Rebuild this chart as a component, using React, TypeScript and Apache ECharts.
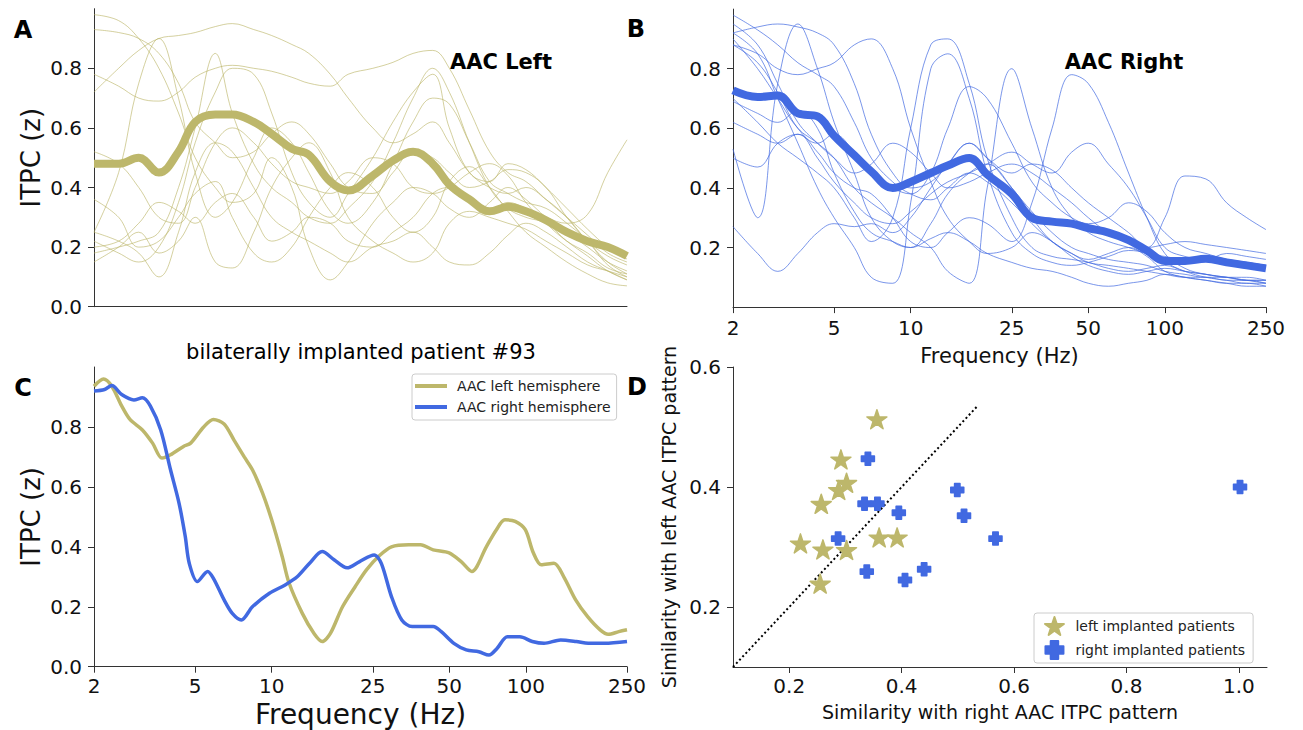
import React, { useEffect, useRef } from 'react';
import * as echarts from 'echarts';

// ---------- data ----------
const FREQ = [2, 2.5, 3, 3.6, 4.3, 5, 6, 7, 8.5, 10, 12, 14, 17, 20, 25, 30, 36, 43, 50, 60, 72, 85, 100, 120, 145, 175, 210, 250];
const TICK_HZ = [2, 5, 10, 25, 50, 100, 250];

const leftMean = [0.48, 0.48, 0.50, 0.45, 0.52, 0.62, 0.645, 0.645, 0.62, 0.58, 0.53, 0.51, 0.42, 0.39, 0.44, 0.49, 0.52, 0.48, 0.41, 0.36, 0.32, 0.335, 0.32, 0.29, 0.25, 0.22, 0.20, 0.17];
const rightMean = [0.727, 0.705, 0.71, 0.65, 0.64, 0.575, 0.51, 0.455, 0.40, 0.42, 0.45, 0.475, 0.50, 0.445, 0.38, 0.30, 0.287, 0.28, 0.265, 0.25, 0.225, 0.19, 0.155, 0.155, 0.162, 0.15, 0.14, 0.13];

const leftPatients = [
  [0.78, 0.74, 0.70, 0.69, 0.72, 0.77, 0.80, 0.81, 0.80, 0.79, 0.77, 0.75, 0.74, 0.78, 0.80, 0.82, 0.85, 0.86, 0.80, 0.66, 0.52, 0.45, 0.42, 0.36, 0.30, 0.24, 0.18, 0.15],
  [0.72, 0.80, 0.86, 0.90, 0.91, 0.92, 0.94, 0.95, 0.93, 0.91, 0.88, 0.85, 0.78, 0.70, 0.60, 0.55, 0.58, 0.62, 0.55, 0.45, 0.40, 0.38, 0.40, 0.36, 0.30, 0.22, 0.17, 0.14],
  [0.98, 0.96, 0.90, 0.80, 0.65, 0.50, 0.40, 0.35, 0.38, 0.50, 0.40, 0.20, 0.09, 0.15, 0.28, 0.35, 0.40, 0.38, 0.33, 0.30, 0.35, 0.40, 0.36, 0.30, 0.25, 0.20, 0.15, 0.12],
  [0.93, 0.92, 0.90, 0.85, 0.75, 0.62, 0.55, 0.50, 0.52, 0.58, 0.62, 0.58, 0.48, 0.40, 0.38, 0.45, 0.52, 0.50, 0.45, 0.40, 0.42, 0.46, 0.45, 0.40, 0.30, 0.22, 0.15, 0.11],
  [0.25, 0.45, 0.75, 0.90, 0.70, 0.45, 0.30, 0.35, 0.50, 0.60, 0.55, 0.45, 0.32, 0.28, 0.35, 0.48, 0.62, 0.70, 0.68, 0.55, 0.42, 0.38, 0.35, 0.33, 0.28, 0.22, 0.14, 0.10],
  [0.18, 0.20, 0.22, 0.25, 0.40, 0.60, 0.85, 0.65, 0.48, 0.40, 0.35, 0.30, 0.28, 0.33, 0.42, 0.55, 0.70, 0.80, 0.72, 0.55, 0.40, 0.33, 0.30, 0.28, 0.22, 0.17, 0.12, 0.09],
  [0.22, 0.18, 0.15, 0.20, 0.35, 0.55, 0.72, 0.80, 0.78, 0.65, 0.45, 0.35, 0.30, 0.38, 0.50, 0.62, 0.72, 0.78, 0.60, 0.45, 0.42, 0.48, 0.46, 0.40, 0.33, 0.26, 0.20, 0.16],
  [0.15, 0.20, 0.25, 0.18, 0.22, 0.30, 0.15, 0.13, 0.25, 0.40, 0.50, 0.55, 0.45, 0.30, 0.22, 0.18, 0.15, 0.18, 0.28, 0.32, 0.30, 0.28, 0.26, 0.22, 0.18, 0.14, 0.12, 0.10],
  [0.25, 0.22, 0.18, 0.10, 0.25, 0.45, 0.55, 0.52, 0.40, 0.30, 0.25, 0.22, 0.18, 0.15, 0.20, 0.22, 0.25, 0.20, 0.15, 0.14, 0.18, 0.24, 0.28, 0.25, 0.20, 0.15, 0.12, 0.09],
  [0.52, 0.48, 0.40, 0.30, 0.28, 0.40, 0.55, 0.60, 0.55, 0.48, 0.42, 0.40, 0.38, 0.42, 0.50, 0.48, 0.40, 0.38, 0.40, 0.45, 0.48, 0.44, 0.35, 0.28, 0.22, 0.18, 0.13, 0.11],
  [0.20, 0.22, 0.28, 0.35, 0.32, 0.28, 0.35, 0.38, 0.30, 0.22, 0.25, 0.30, 0.28, 0.22, 0.20, 0.25, 0.30, 0.38, 0.40, 0.36, 0.32, 0.35, 0.33, 0.30, 0.28, 0.31, 0.45, 0.56],
  [0.36, 0.30, 0.20, 0.22, 0.30, 0.38, 0.42, 0.30, 0.18, 0.15, 0.20, 0.30, 0.40, 0.45, 0.40, 0.30, 0.25, 0.30, 0.42, 0.47, 0.40, 0.32, 0.25, 0.20, 0.15, 0.11, 0.08, 0.07],
];

const rightPatients = [
  [0.98, 0.93, 0.88, 0.82, 0.78, 0.74, 0.62, 0.50, 0.42, 0.38, 0.36, 0.40, 0.45, 0.42, 0.35, 0.28, 0.22, 0.18, 0.15, 0.14, 0.13, 0.12, 0.11, 0.10, 0.10, 0.09, 0.09, 0.08],
  [0.92, 0.94, 0.95, 0.94, 0.92, 0.88, 0.75, 0.58, 0.45, 0.40, 0.42, 0.48, 0.55, 0.50, 0.40, 0.32, 0.25, 0.20, 0.18, 0.16, 0.15, 0.14, 0.12, 0.11, 0.10, 0.10, 0.09, 0.09],
  [0.53, 0.30, 0.75, 0.95, 0.80, 0.62, 0.45, 0.30, 0.22, 0.20, 0.28, 0.38, 0.45, 0.48, 0.40, 0.30, 0.22, 0.18, 0.16, 0.18, 0.20, 0.17, 0.12, 0.10, 0.09, 0.08, 0.08, 0.07],
  [0.88, 0.85, 0.80, 0.78, 0.80, 0.82, 0.88, 0.90, 0.80, 0.60, 0.42, 0.30, 0.22, 0.18, 0.20, 0.25, 0.22, 0.17, 0.14, 0.12, 0.11, 0.12, 0.13, 0.12, 0.11, 0.10, 0.10, 0.09],
  [0.70, 0.62, 0.55, 0.50, 0.45, 0.40, 0.30, 0.22, 0.30, 0.60, 0.88, 0.90, 0.75, 0.50, 0.30, 0.20, 0.17, 0.16, 0.15, 0.13, 0.12, 0.13, 0.14, 0.12, 0.11, 0.10, 0.09, 0.09],
  [0.92, 0.85, 0.70, 0.55, 0.40, 0.30, 0.20, 0.10, 0.08, 0.35, 0.80, 0.85, 0.70, 0.45, 0.25, 0.18, 0.15, 0.14, 0.15, 0.17, 0.19, 0.18, 0.15, 0.12, 0.10, 0.09, 0.08, 0.08],
  [0.90, 0.80, 0.70, 0.60, 0.55, 0.50, 0.40, 0.35, 0.30, 0.25, 0.20, 0.12, 0.08, 0.40, 0.80, 0.60, 0.40, 0.30, 0.25, 0.22, 0.20, 0.18, 0.17, 0.16, 0.17, 0.16, 0.15, 0.14],
  [0.62, 0.58, 0.55, 0.58, 0.52, 0.45, 0.40, 0.38, 0.30, 0.22, 0.20, 0.25, 0.30, 0.28, 0.22, 0.35, 0.60, 0.78, 0.75, 0.62, 0.45, 0.30, 0.18, 0.13, 0.11, 0.10, 0.09, 0.08],
  [0.27, 0.18, 0.12, 0.18, 0.25, 0.28, 0.27, 0.28, 0.25, 0.30, 0.40, 0.48, 0.55, 0.50, 0.45, 0.48, 0.46, 0.40, 0.35, 0.30, 0.25, 0.20, 0.30, 0.44, 0.43, 0.35, 0.30, 0.26],
  [0.50, 0.47, 0.55, 0.58, 0.50, 0.42, 0.35, 0.30, 0.28, 0.32, 0.38, 0.42, 0.45, 0.48, 0.52, 0.48, 0.45, 0.52, 0.55, 0.48, 0.40, 0.30, 0.20, 0.17, 0.16, 0.18, 0.17, 0.16],
  [0.88, 0.82, 0.72, 0.60, 0.55, 0.58, 0.52, 0.45, 0.40, 0.38, 0.45, 0.60, 0.74, 0.70, 0.55, 0.42, 0.35, 0.30, 0.28, 0.30, 0.35, 0.32, 0.25, 0.20, 0.18, 0.16, 0.15, 0.14],
  [0.95, 0.88, 0.75, 0.62, 0.55, 0.50, 0.45, 0.48, 0.55, 0.52, 0.45, 0.40, 0.42, 0.45, 0.48, 0.45, 0.40, 0.35, 0.30, 0.25, 0.22, 0.20, 0.21, 0.22, 0.21, 0.20, 0.19, 0.18],
  [0.69, 0.65, 0.62, 0.66, 0.60, 0.45, 0.32, 0.25, 0.22, 0.20, 0.23, 0.25, 0.22, 0.18, 0.15, 0.13, 0.12, 0.10, 0.08, 0.07, 0.08, 0.09, 0.11, 0.10, 0.09, 0.08, 0.07, 0.07],
];

const patient93LeftFreq = [2, 2.18, 2.35, 2.57, 2.77, 3.1, 3.4, 3.7, 4.0, 4.5, 4.8, 5.4, 5.9, 6.5, 7.1, 7.8, 8.4, 9.2, 10, 11, 11.7, 13.2, 14.7, 15.8, 17, 19, 21.3, 23.6, 26.5, 29.6, 34.6, 38.5, 43.2, 49.9, 55.8, 61.3, 69.9, 76.6, 82.7, 90.8, 99.5, 107, 115, 129, 141, 157, 175, 196, 211, 232, 250];
const patient93Left = [0.936, 0.96, 0.936, 0.87, 0.825, 0.79, 0.746, 0.696, 0.707, 0.735, 0.746, 0.80, 0.825, 0.81, 0.757, 0.70, 0.657, 0.58, 0.49, 0.368, 0.28, 0.178, 0.11, 0.084, 0.11, 0.20, 0.267, 0.323, 0.37, 0.40, 0.407, 0.407, 0.39, 0.38, 0.35, 0.318, 0.40, 0.457, 0.49, 0.485, 0.457, 0.38, 0.34, 0.345, 0.30, 0.223, 0.167, 0.123, 0.108, 0.117, 0.123];
const patient93RightFreq = [2, 2.2, 2.35, 2.57, 2.87, 3.1, 3.33, 3.66, 4.0, 4.32, 4.57, 4.74, 5.1, 5.6, 5.9, 6.5, 7.0, 7.6, 8.4, 9.8, 11.3, 12.6, 14.1, 15.8, 17.6, 19.8, 22.1, 25.3, 27, 29.6, 32.5, 35.7, 43.2, 46.5, 52.1, 58.3, 65.3, 71.6, 77, 84.6, 94.7, 106, 118, 137, 158, 176, 204, 250];
const patient93Right = [0.92, 0.925, 0.938, 0.908, 0.89, 0.897, 0.87, 0.79, 0.657, 0.546, 0.435, 0.345, 0.284, 0.318, 0.295, 0.223, 0.178, 0.156, 0.20, 0.245, 0.273, 0.30, 0.345, 0.384, 0.357, 0.33, 0.35, 0.373, 0.345, 0.234, 0.156, 0.134, 0.134, 0.117, 0.078, 0.056, 0.05, 0.039, 0.061, 0.10, 0.10, 0.084, 0.078, 0.089, 0.084, 0.078, 0.078, 0.084];

// similarity: [with right AAC, with left AAC]
const leftImplanted = [[0.356, 0.513], [0.292, 0.446], [0.302, 0.407], [0.288, 0.395], [0.257, 0.372], [0.220, 0.306], [0.260, 0.296], [0.302, 0.295], [0.360, 0.316], [0.392, 0.316], [0.255, 0.239]];
const rightImplanted = [[0.340, 0.447], [0.499, 0.395], [1.002, 0.400], [0.334, 0.372], [0.357, 0.372], [0.395, 0.357], [0.511, 0.352], [0.287, 0.314], [0.567, 0.314], [0.338, 0.259], [0.406, 0.245], [0.440, 0.263]];
const identityLine = [[0.1, 0.1], [0.535, 0.535]];

// ---------- styling ----------
const FONT = '"DejaVu Sans", "Noto Sans", sans-serif';
const KHAKI = '#BDB76B';
const ROYAL = '#4169E1';
const AXIS = '#333333';
const STAR = 'path://M0,-1L0.2245,-0.309L0.951,-0.309L0.3633,0.118L0.588,0.809L0,0.382L-0.588,0.809L-0.3633,0.118L-0.951,-0.309L-0.2245,-0.309Z';
const PLUS = 'path://M-1.25,-3H1.25V-1.25H3V1.25H1.25V3H-1.25V1.25H-3V-1.25H-1.25Z';

const lg = (f: number) => Math.log10(f);
const pairs = (fs: number[], vs: number[]) => vs.map((v, i) => [lg(fs[i]), v]);

function freqAxis(gridIndex: number, showLabels: boolean, name?: string, nameSize?: number, nameGap?: number) {
  return {
    gridIndex,
    type: 'value',
    min: lg(2),
    max: lg(250),
    axisLine: { show: true, lineStyle: { color: AXIS, width: 1 } },
    axisTick: { show: showLabels, length: 6, lineStyle: { color: AXIS }, customValues: TICK_HZ.map(lg) },
    axisLabel: {
      show: showLabels, fontSize: 20, color: '#111', fontFamily: FONT, margin: 9,
      customValues: TICK_HZ.map(lg),
      formatter: (v: number) => String(Math.round(Math.pow(10, v))),
    },
    splitLine: { show: false },
    name: name || '',
    nameLocation: 'middle',
    nameGap: nameGap || 30,
    nameTextStyle: { fontSize: nameSize || 20, color: '#111', fontFamily: FONT },
  };
}

function valAxis(gridIndex: number, min: number, max: number, ticks: number[], name?: string, nameSize?: number, nameGap?: number) {
  return {
    gridIndex,
    type: 'value',
    min,
    max,
    axisLine: { show: true, lineStyle: { color: AXIS, width: 1 } },
    axisTick: { show: true, length: 6, lineStyle: { color: AXIS }, customValues: ticks },
    axisLabel: {
      fontSize: 20, color: '#111', fontFamily: FONT, margin: 12,
      customValues: ticks,
      formatter: (v: number) => v.toFixed(1),
    },
    splitLine: { show: false },
    name: name || '',
    nameLocation: 'middle',
    nameRotate: 90,
    nameGap: nameGap || 50,
    nameTextStyle: { fontSize: nameSize || 26, color: '#111', fontFamily: FONT },
  };
}

function label(text: string, x: number, y: number, size: number, bold: boolean) {
  return {
    type: 'text',
    x,
    y,
    style: {
      text,
      fontSize: size,
      fontWeight: bold ? 'bold' : 'normal',
      fontFamily: FONT,
      fill: '#000',
      align: 'center',
      verticalAlign: 'middle',
      textAlign: 'center',
      textVerticalAlign: 'middle',
    },
  };
}

export default function App() {
  const ref = useRef<HTMLDivElement>(null);

  useEffect(() => {
    if (!ref.current) return;
    const chart = echarts.init(ref.current, undefined, { renderer: 'svg' });

    const series: any[] = [];
    leftPatients.forEach((vals, i) => {
      series.push({
        name: 'left patient ' + (i + 1), type: 'line', xAxisIndex: 0, yAxisIndex: 0,
        data: pairs(FREQ, vals), showSymbol: false, smooth: 0.4,
        lineStyle: { color: KHAKI, width: 1, opacity: 0.65 }, itemStyle: { color: KHAKI }, z: 2,
      });
    });
    series.push({
      name: 'AAC Left mean', type: 'line', xAxisIndex: 0, yAxisIndex: 0,
      data: pairs(FREQ, leftMean), showSymbol: false, smooth: 0.4,
      lineStyle: { color: KHAKI, width: 8 }, itemStyle: { color: KHAKI }, z: 3,
    });
    rightPatients.forEach((vals, i) => {
      series.push({
        name: 'right patient ' + (i + 1), type: 'line', xAxisIndex: 1, yAxisIndex: 1,
        data: pairs(FREQ, vals), showSymbol: false, smooth: 0.4,
        lineStyle: { color: ROYAL, width: 1, opacity: 0.7 }, itemStyle: { color: ROYAL }, z: 2,
      });
    });
    series.push({
      name: 'AAC Right mean', type: 'line', xAxisIndex: 1, yAxisIndex: 1,
      data: pairs(FREQ, rightMean), showSymbol: false, smooth: 0.4,
      lineStyle: { color: ROYAL, width: 8 }, itemStyle: { color: ROYAL }, z: 3,
    });
    series.push({
      name: 'AAC left hemisphere', type: 'line', xAxisIndex: 2, yAxisIndex: 2,
      data: pairs(patient93LeftFreq, patient93Left), showSymbol: false, smooth: 0.3,
      lineStyle: { color: KHAKI, width: 3.5 }, itemStyle: { color: KHAKI },
    });
    series.push({
      name: 'AAC right hemisphere', type: 'line', xAxisIndex: 2, yAxisIndex: 2,
      data: pairs(patient93RightFreq, patient93Right), showSymbol: false, smooth: 0.3,
      lineStyle: { color: ROYAL, width: 3.5 }, itemStyle: { color: ROYAL },
    });
    series.push({
      name: 'identity', type: 'line', xAxisIndex: 3, yAxisIndex: 3,
      data: identityLine, showSymbol: false,
      lineStyle: { color: '#000', width: 2, type: [2, 2.6] }, z: 1,
    });
    series.push({
      name: 'left implanted patients', type: 'scatter', xAxisIndex: 3, yAxisIndex: 3,
      data: leftImplanted, symbol: STAR, symbolSize: 20, symbolKeepAspect: true,
      itemStyle: { color: KHAKI, opacity: 1, borderColor: KHAKI, borderWidth: 1.5, borderJoin: 'round' }, z: 3,
    });
    series.push({
      name: 'right implanted patients', type: 'scatter', xAxisIndex: 3, yAxisIndex: 3,
      data: rightImplanted, symbol: PLUS, symbolSize: 13, symbolKeepAspect: true,
      itemStyle: { color: ROYAL, opacity: 1, borderColor: ROYAL, borderWidth: 1.5, borderJoin: 'round' }, z: 3,
    });

    const option: any = {
      animation: false,
      backgroundColor: '#ffffff',
      textStyle: { fontFamily: FONT },
      grid: [
        { left: 94, top: 8.7, width: 533, height: 298, containLabel: false, outerBoundsMode: 'none' },
        { left: 733, top: 9.1, width: 533, height: 299.5, containLabel: false, outerBoundsMode: 'none' },
        { left: 94, top: 367, width: 533, height: 299.7, containLabel: false, outerBoundsMode: 'none' },
        { left: 733, top: 367, width: 534, height: 300, containLabel: false, outerBoundsMode: 'none' },
      ],
      xAxis: [
        freqAxis(0, false),
        freqAxis(1, true, 'Frequency (Hz)', 21, 37),
        freqAxis(2, true, 'Frequency (Hz)', 28, 34),
        {
          gridIndex: 3, type: 'value', min: 0.1, max: 1.05,
          axisLine: { show: true, lineStyle: { color: AXIS, width: 1 } },
          axisTick: { show: true, length: 6, lineStyle: { color: AXIS }, customValues: [0.2, 0.4, 0.6, 0.8, 1.0] },
          axisLabel: {
            fontSize: 20, color: '#111', fontFamily: FONT, margin: 9,
            customValues: [0.2, 0.4, 0.6, 0.8, 1.0], formatter: (v: number) => v.toFixed(1),
          },
          splitLine: { show: false },
          name: 'Similarity with right AAC ITPC pattern', nameLocation: 'middle', nameGap: 35,
          nameTextStyle: { fontSize: 19, color: '#111', fontFamily: FONT },
        },
      ],
      yAxis: [
        valAxis(0, 0, 1.0, [0, 0.2, 0.4, 0.6, 0.8], 'ITPC (z)', 26, 50),
        valAxis(1, -0.005, 1.0, [0.2, 0.4, 0.6, 0.8]),
        valAxis(2, 0, 1.0, [0, 0.2, 0.4, 0.6, 0.8], 'ITPC (z)', 26, 50),
        valAxis(3, 0.1, 0.6, [0.2, 0.4, 0.6], 'Similarity with left AAC ITPC pattern', 19, 55),
      ],
      legend: [
        {
          data: ['AAC left hemisphere', 'AAC right hemisphere'],
          orient: 'vertical', left: 412, top: 374,
          icon: 'rect', itemWidth: 32, itemHeight: 4, itemGap: 7,
          padding: [5, 6, 6, 3],
          borderColor: '#cccccc', borderWidth: 1, borderRadius: 3,
          backgroundColor: 'rgba(255,255,255,0.8)',
          textStyle: { fontSize: 14, color: '#222', fontFamily: FONT, padding: [0, 0, 0, 5] },
          selectedMode: false,
        },
        {
          data: ['left implanted patients', 'right implanted patients'],
          orient: 'vertical', left: 1034, top: 613,
          itemWidth: 20, itemHeight: 18, itemGap: 4,
          padding: [3, 8, 3, 10],
          borderColor: '#cccccc', borderWidth: 1, borderRadius: 3,
          backgroundColor: 'rgba(255,255,255,0.8)',
          textStyle: { fontSize: 14, color: '#222', fontFamily: FONT, padding: [0, 0, 0, 6] },
          selectedMode: false,
        },
      ],
      graphic: [
        label('A', 23, 30, 24, true),
        label('B', 636, 29, 24, true),
        label('C', 23, 388, 24, true),
        label('D', 637, 387, 24, true),
        label('AAC Left', 501, 62, 21, true),
        label('AAC Right', 1124, 62, 21, true),
        label('bilaterally implanted patient #93', 361, 352, 21, false),
      ],
      series,
    };

    chart.setOption(option);
    return () => chart.dispose();
  }, []);

  return (
    <div
      ref={ref}
      style={{ position: 'fixed', left: 0, top: 0, width: 1303, height: 730, background: '#fff' }}
    />
  );
}
